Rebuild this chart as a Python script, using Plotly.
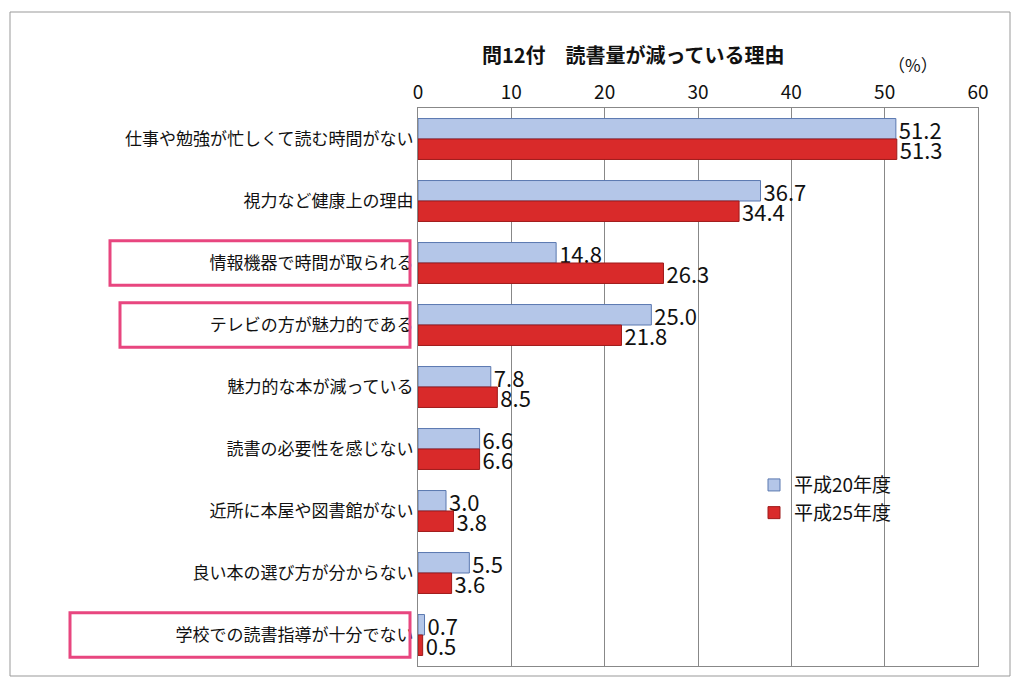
import plotly.graph_objects as go

categories = ["仕事や勉強が忙しくて読む時間がない", "視力など健康上の理由", "情報機器で時間が取られる",
              "テレビの方が魅力的である", "魅力的な本が減っている", "読書の必要性を感じない",
              "近所に本屋や図書館がない", "良い本の選び方が分からない", "学校での読書指導が十分でない"]
h20 = [51.2, 36.7, 14.8, 25.0, 7.8, 6.6, 3.0, 5.5, 0.7]
h25 = [51.3, 34.4, 26.3, 21.8, 8.5, 6.6, 3.8, 3.6, 0.5]
boxed = {2: 102, 3: 112, 8: 62}  # row index -> left pixel of pink frame

font = "Noto Sans CJK JP"
W, H = 1008, 672
left, right, top, bottom = 410, 38, 100, 14
width = W - left - right
height = H - top - bottom

fig = go.Figure()
fig.add_trace(go.Bar(y=categories, x=h20, orientation="h", name="平成20年度",
                     marker=dict(color="#b4c6e8", line=dict(color="#5a78b0", width=1)),
                     text=[f"{v:.1f}" for v in h20], textposition="outside", constraintext="none",
                     textfont=dict(size=22, color="#111"), cliponaxis=False))
fig.add_trace(go.Bar(y=categories, x=h25, orientation="h", name="平成25年度",
                     marker=dict(color="#d92a2a", line=dict(color="#9e1a1a", width=1)),
                     text=[f"{v:.1f}" for v in h25], textposition="outside", constraintext="none",
                     textfont=dict(size=22, color="#111"), cliponaxis=False))

for i, px in boxed.items():
    fig.add_shape(type="rect", xref="paper", yref="y", x0=(px - left) / width, x1=(402 - left) / width,
                  y0=i - 0.36, y1=i + 0.36, line=dict(color="#e8467f", width=3))

fig.add_annotation(text="<b>問12付　読書量が減っている理由</b>", xref="paper", yref="paper",
                   x=(472 - left) / width, y=1 + (top - 30) / height, showarrow=False,
                   font=dict(size=20, family=font))
fig.add_annotation(text="（%）", xref="paper", yref="paper", x=(932 - left) / width,
                   y=1 + (top - 42) / height, showarrow=False, font=dict(size=17, family=font))
fig.add_shape(type="rect", xref="paper", yref="paper", x0=(2 - left) / width, x1=(W - 6 - left) / width,
              y0=-(bottom - 4) / height, y1=1 + (top - 4) / height, line=dict(color="#999", width=1))

fig.update_layout(
    width=W, height=H, margin=dict(l=left, r=right, t=top, b=bottom),
    paper_bgcolor="white", plot_bgcolor="white",
    barmode="group", bargap=0.34, bargroupgap=0,
    font=dict(family=font, size=17, color="#111"),
    legend=dict(x=0.6, y=0.24, bgcolor="rgba(0,0,0,0)", font=dict(size=19), tracegroupgap=20),
    xaxis=dict(side="top", range=[0, 60], dtick=10, showgrid=True, gridcolor="#888",
               tickfont=dict(size=19), zeroline=False, showline=True, linecolor="#888", mirror=True),
    yaxis=dict(autorange="reversed", tickfont=dict(size=17), showline=True, linecolor="#888",
               ticks="", mirror=True),
)
fig.write_html("out.html")
